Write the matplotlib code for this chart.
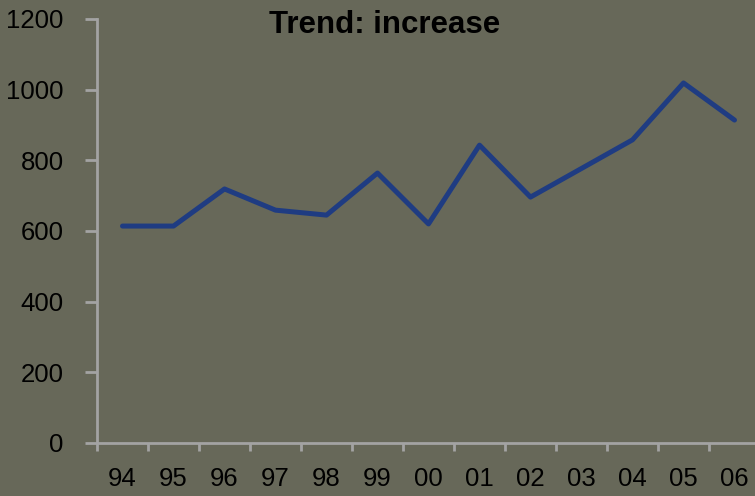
import numpy as np
import matplotlib.pyplot as plt

# data
years = ['94', '95', '96', '97', '98', '99', '00', '01', '02', '03', '04', '05', '06']
values = [614, 614, 719, 659, 645, 764, 620, 843, 696, 777, 858, 1019, 914]
yticks = [0, 200, 400, 600, 800, 1000, 1200]

bg = '#676859'
spine_col = '#a3a3a3'
line_col = '#1f3c82'

plt.rcParams['font.family'] = ['Liberation Sans', 'DejaVu Sans']

fig = plt.figure(figsize=(7.55, 4.96), dpi=100, facecolor=bg)
ax = fig.add_axes([97 / 755, 53 / 496, 663 / 755, 424 / 496], facecolor=bg)

x = np.arange(len(years))
ax.plot(x, values, color=line_col, lw=3.6, solid_joinstyle='round', solid_capstyle='round',
        clip_on=False)

ax.set_xlim(-0.5, len(years) - 0.5)
ax.set_ylim(0, 1200)

# category axis: ticks between categories, labels at centres
ax.set_xticks(np.arange(len(years) + 1) - 0.5)
ax.set_xticklabels([])
ax.set_xticks(x, minor=True)
ax.set_xticklabels(years, minor=True)
ax.tick_params(axis='x', which='major', direction='out', length=6, width=2, color=spine_col)
ax.tick_params(axis='x', which='minor', length=0, pad=17, labelsize=18.5)

ax.set_yticks(yticks)
ax.set_yticklabels([str(v) for v in yticks])
ax.tick_params(axis='y', direction='out', length=9, width=2, color=spine_col, pad=15,
               labelsize=18.5)

for s in ['top', 'right']:
    ax.spines[s].set_visible(False)
for s in ['left', 'bottom']:
    ax.spines[s].set_color(spine_col)
    ax.spines[s].set_linewidth(2)

fig.text(385 / 755, 1 - 25 / 496, 'Trend: increase', ha='center', va='center',
         fontsize=22.5, fontweight='bold', color='black')

fig.savefig('out.png', dpi=100, facecolor=bg)
